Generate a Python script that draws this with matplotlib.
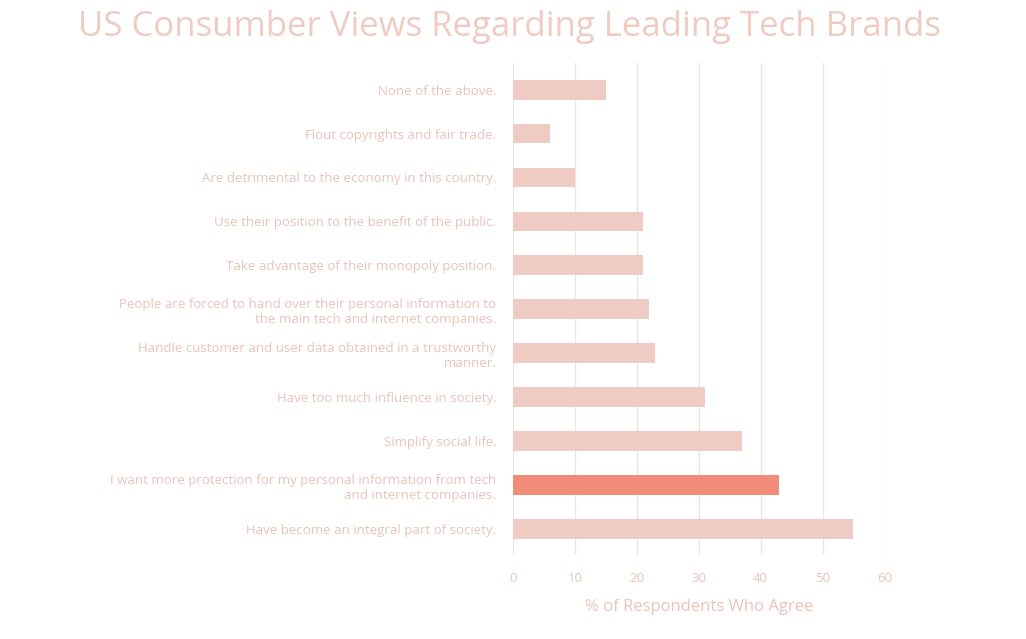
import matplotlib
matplotlib.use("Agg")
import matplotlib.pyplot as plt

categories = [
    "Have become an integral part of society.",
    "I want more protection for my personal information from tech\nand internet companies.",
    "Simplify social life.",
    "Have too much influence in society.",
    "Handle customer and user data obtained in a trustworthy\nmanner.",
    "People are forced to hand over their personal information to\nthe main tech and internet companies.",
    "Take advantage of their monopoly position.",
    "Use their position to the benefit of the public.",
    "Are detrimental to the economy in this country.",
    "Flout copyrights and fair trade.",
    "None of the above.",
]
values = [55, 43, 37, 31, 23, 22, 21, 21, 10, 6, 15]
highlight = 1
ticks = [0, 10, 20, 30, 40, 50, 60]

plt.rcParams['font.family'] = ['Open Sans', 'DejaVu Sans']
txt = "#eac3ba"
fig = plt.figure(figsize=(10.26, 6.39), dpi=100)
ax = fig.add_axes([0.5, 0.131, 0.362, 0.77])
colors = ["#f08c78" if i == highlight else "#efcbc3" for i in range(len(values))]
ax.barh(range(len(values)), values, height=0.45, color=colors, zorder=2)
ax.set_yticks(range(len(values)))
ax.set_yticklabels(categories, color=txt, fontsize=9.5, ha='right')
ax.set_xticks(ticks)
ax.set_xticklabels([str(t) for t in ticks], color=txt, fontsize=9.5)
ax.set_xlim(0, 60)
ax.set_ylim(-0.6, len(values) - 0.4)
ax.grid(axis='x', color="#e6e6e6", lw=1, zorder=0)
for s in ax.spines.values():
    s.set_visible(False)
ax.tick_params(length=0, pad=12)
ax.set_xlabel("% of Respondents Who Agree", color=txt, fontsize=12, labelpad=10)
fig.text(0.497, 0.958, "US Consumber Views Regarding Leading Tech Brands", ha='center', va='center',
         color="#f0cbc2", fontsize=25)
fig.savefig("out.png", dpi=100)
